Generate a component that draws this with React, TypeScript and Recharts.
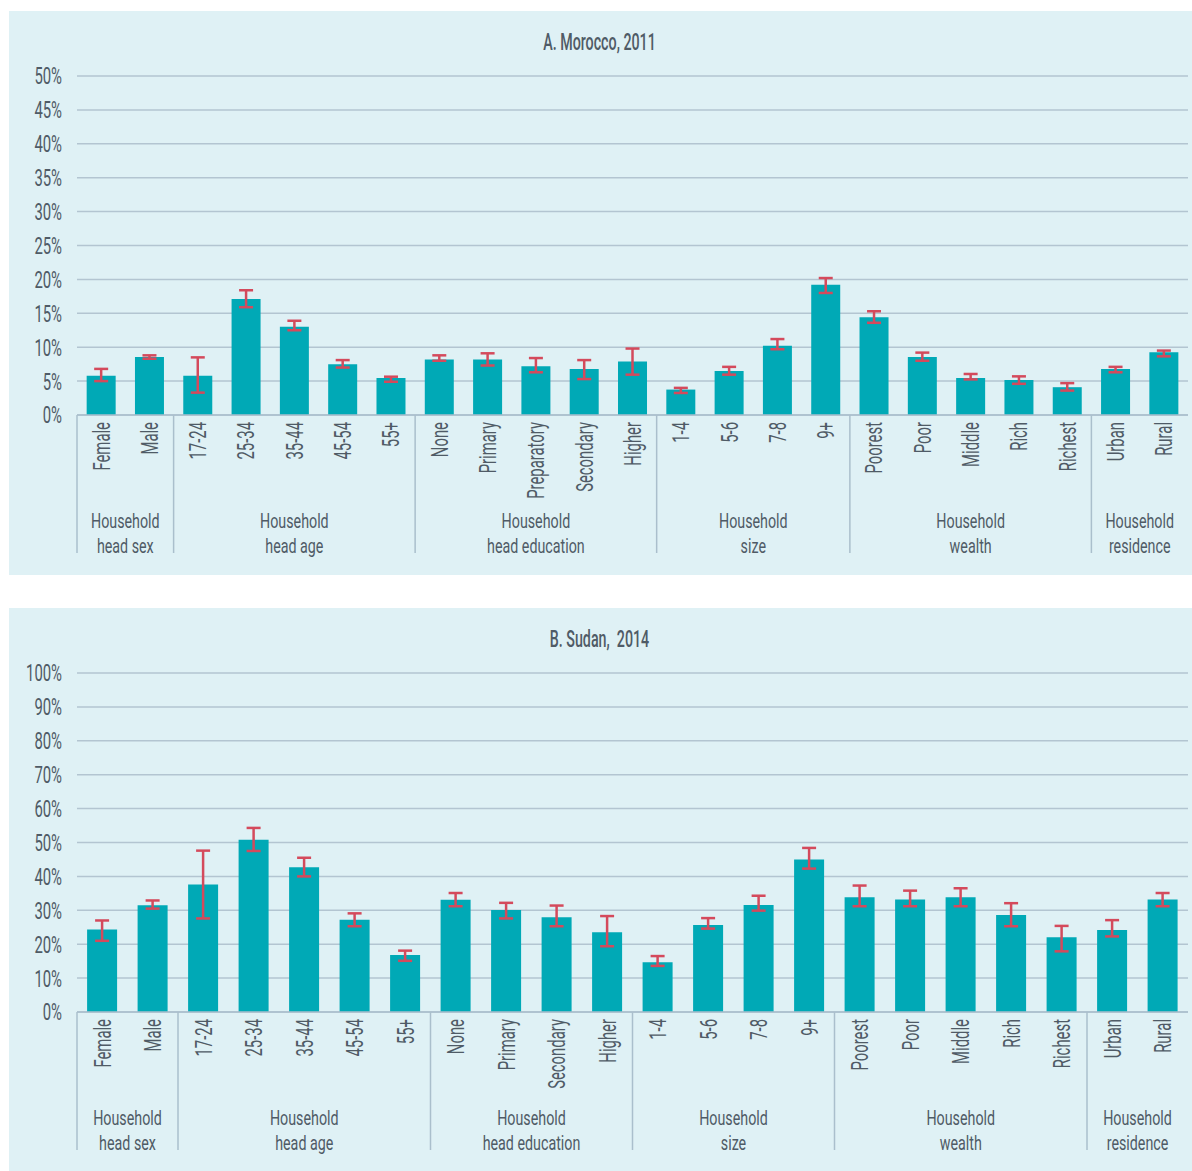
import { BarChart, Bar, XAxis, YAxis, CartesianGrid, ErrorBar } from "recharts";

// Morocco 2011
const catsA = ["Female", "Male", "17-24", "25-34", "35-44", "45-54", "55+", "None", "Primary", "Preparatory", "Secondary", "Higher", "1-4", "5-6", "7-8", "9+", "Poorest", "Poor", "Middle", "Rich", "Richest", "Urban", "Rural"];
const valuesA = [5.8, 8.55, 5.8, 17.1, 13.0, 7.5, 5.45, 8.2, 8.2, 7.2, 6.8, 7.9, 3.75, 6.5, 10.2, 19.2, 14.4, 8.55, 5.45, 5.15, 4.1, 6.8, 9.25];
const lowA = [5.0, 8.3, 3.3, 15.9, 12.5, 7.0, 4.9, 8.0, 7.3, 6.3, 5.3, 5.95, 3.25, 5.95, 9.7, 18.0, 13.6, 8.0, 5.25, 4.6, 3.6, 6.3, 8.65];
const highA = [6.8, 8.8, 8.5, 18.4, 13.9, 8.1, 5.65, 8.8, 9.1, 8.4, 8.1, 9.8, 4.0, 7.1, 11.2, 20.2, 15.3, 9.2, 6.05, 5.7, 4.7, 7.1, 9.5];
const groupSizesA = [2, 5, 5, 4, 5, 2];
const ticksA = [0, 5, 10, 15, 20, 25, 30, 35, 40, 45, 50];

// Sudan 2014
const catsB = ["Female", "Male", "17-24", "25-34", "35-44", "45-54", "55+", "None", "Primary", "Secondary", "Higher", "1-4", "5-6", "7-8", "9+", "Poorest", "Poor", "Middle", "Rich", "Richest", "Urban", "Rural"];
const valuesB = [24.3, 31.5, 37.6, 50.8, 42.7, 27.2, 16.8, 33.1, 30.1, 27.95, 23.5, 14.7, 25.7, 31.6, 45.0, 33.85, 33.2, 33.85, 28.6, 22.05, 24.2, 33.2];
const lowB = [21.0, 30.5, 27.6, 47.5, 40.0, 25.3, 15.1, 31.2, 27.6, 25.3, 19.4, 13.6, 24.6, 29.9, 42.3, 31.2, 31.2, 31.2, 25.3, 17.9, 22.3, 31.2];
const highB = [27.0, 32.9, 47.6, 54.3, 45.5, 29.1, 18.1, 35.1, 32.2, 31.4, 28.3, 16.5, 27.7, 34.3, 48.4, 37.3, 35.8, 36.5, 32.1, 25.4, 27.1, 35.1];
const groupSizesB = [2, 5, 4, 4, 5, 2];
const ticksB = [0, 10, 20, 30, 40, 50, 60, 70, 80, 90, 100];

const groupLabels = [
  ["Household", "head sex"],
  ["Household", "head age"],
  ["Household", "head education"],
  ["Household", "size"],
  ["Household", "wealth"],
  ["Household", "residence"],
];

const W = 1183;
const LEFT = 68;
const RIGHT = 4;
const SX = 0.62;
const FONT = "Roboto, 'Noto Sans', sans-serif";
const TXT = "#4f5b66";
const LINE = "#aabfcc";

const buildRows = (cats: string[], vals: number[], lo: number[], hi: number[]) =>
  cats.map((c, i) => ({ cat: c, value: vals[i], err: [vals[i] - lo[i], hi[i] - vals[i]] }));

const YTick = ({ x, y, payload }: any) => (
  <g transform={`translate(${x},${y}) scale(${SX},1)`}>
    <text x={0} y={0} textAnchor="end" dominantBaseline="central" fontSize={24} fill={TXT} fontFamily={FONT}>
      {payload.value}%
    </text>
  </g>
);

const makeXTick = (n: number, sizes: number[]) => {
  const band = (W - LEFT - RIGHT) / n;
  const starts: number[] = [];
  let acc = 0;
  sizes.forEach((s) => {
    starts.push(acc);
    acc += s;
  });
  return ({ x, y, payload, index }: any) => {
    const axisY = y - 7;
    const g = starts.indexOf(index);
    const left = x - band / 2;
    return (
      <g>
        <g transform={`translate(${x},${y}) rotate(-90) scale(${SX},1)`}>
          <text x={0} y={0} textAnchor="end" dominantBaseline="central" fontSize={24} fill={TXT} fontFamily={FONT}>
            {payload.value}
          </text>
        </g>
        {g >= 0 && (
          <g>
            <line x1={left} y1={axisY} x2={left} y2={axisY + 138} stroke={LINE} strokeWidth={1.5} />
            {groupLabels[g].map((t, k) => (
              <g key={k} transform={`translate(${left + (sizes[g] * band) / 2},${axisY + 105 + k * 25}) scale(0.68,1)`}>
                <text x={0} y={0} textAnchor="middle" dominantBaseline="central" fontSize={21} fill={TXT} fontFamily={FONT}>
                  {t}
                </text>
              </g>
            ))}
          </g>
        )}
      </g>
    );
  };
};

const Panel = ({ top, height, title, rows, ticks, sizes }: any) => {
  const XTick = makeXTick(rows.length, sizes);
  return (
    <div style={{ position: "absolute", left: 9, top, width: W, height, background: "#dff1f5" }}>
      <div
        style={{
          position: "absolute",
          left: 0,
          width: W - 2,
          top: 18,
          textAlign: "center",
          fontFamily: FONT,
          fontSize: 23,
          fontWeight: 500,
          color: TXT,
          transform: `scaleX(${SX})`,
          whiteSpace: "pre",
        }}
      >
        {title}
      </div>
      <BarChart width={W} height={height} data={rows} margin={{ top: 65, right: RIGHT, left: 0, bottom: 0 }} barCategoryGap="20%">
        <CartesianGrid vertical={false} stroke="#b3c5d1" strokeWidth={1.5} />
        <XAxis
          dataKey="cat"
          interval={0}
          height={height - 65 - 339}
          tickSize={0}
          tickMargin={7}
          tickLine={false}
          axisLine={{ stroke: LINE, strokeWidth: 1.5 }}
          tick={<XTick />}
        />
        <YAxis
          width={LEFT}
          domain={[ticks[0], ticks[ticks.length - 1]]}
          ticks={ticks}
          tickSize={0}
          tickMargin={15}
          tickLine={false}
          axisLine={false}
          tick={<YTick />}
        />
        <Bar dataKey="value" fill="#00a9b6" isAnimationActive={false}>
          <ErrorBar dataKey="err" width={7} stroke="#d44a5c" strokeWidth={2.5} direction="y" />
        </Bar>
      </BarChart>
    </div>
  );
};

export default function App() {
  return (
    <div style={{ position: "absolute", left: 0, top: 0, width: 1192, height: 1171, background: "#fff" }}>
      <Panel top={11} height={564} title="A. Morocco, 2011" rows={buildRows(catsA, valuesA, lowA, highA)} ticks={ticksA} sizes={groupSizesA} />
      <Panel top={608} height={563} title="B. Sudan,  2014" rows={buildRows(catsB, valuesB, lowB, highB)} ticks={ticksB} sizes={groupSizesB} />
    </div>
  );
}
